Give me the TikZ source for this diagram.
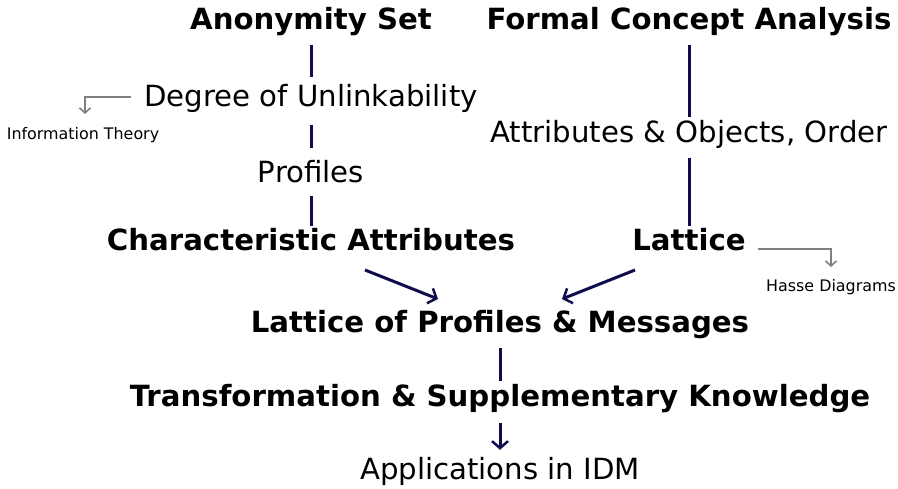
\documentclass[tikz,border=0pt]{standalone}
\usepackage{fontspec}
\setmainfont{DejaVu Sans}
\usepackage{tikz}
\usetikzlibrary{arrows.meta}

\definecolor{navy}{RGB}{14,14,78}
\definecolor{notegray}{RGB}{128,128,128}

\begin{document}
\begin{tikzpicture}[x=1pt,y=-1pt]
\tikzstyle{topic}=[inner sep=0pt,anchor=base,text height=20pt,text depth=6pt,font=\fontsize{29.2}{33}\selectfont\bfseries]
\tikzstyle{sub}=[inner sep=0pt,anchor=base,text height=20pt,text depth=6pt,font=\fontsize{29.2}{33}\selectfont]
\tikzstyle{hint}=[inner sep=0pt,anchor=base,text height=11pt,text depth=4pt,font=\fontsize{15.9}{18}\selectfont]
\tikzstyle{link}=[draw=navy,line width=3pt]
\tikzstyle{flow}=[draw=navy,line width=3pt,-{Straight Barb[length=7pt,width=16pt,line width=2.5pt]}]
\tikzstyle{note}=[draw=notegray,line width=2pt,-{Straight Barb[length=5pt,width=11pt,line width=1.6pt]}]
\useasboundingbox (0,0) rectangle (898,488);

% left column
\node [topic] (anon) at (311,29) {Anonymity Set};
\node [sub] (degree) at (311,106) {Degree of Unlinkability};
\node [hint] (info) at (83,139) {Information Theory};
\node [sub] (profiles) at (311,182) {Profiles};
\node [topic] (charattr) at (311,250) {Characteristic Attributes};

% right column
\node [topic] (fca) at (689,29) {Formal Concept Analysis};
\node [sub] (attrobj) at (689,142) {Attributes \& Objects, Order};
\node [topic] (lattice) at (689,250) {Lattice};
\node [hint] (hasse) at (831,291) {Hasse Diagrams};

% bottom
\node [topic] (lop) at (500,332) {Lattice of Profiles \& Messages};
\node [topic] (trans) at (500,406) {Transformation \& Supplementary Knowledge};
\node [sub] (apps) at (500,479) {Applications in IDM};

\draw[link,shorten <=10pt,shorten >=9pt] (anon) -- (degree);
\draw[link,shorten <=13pt,shorten >=14pt] (degree) -- (profiles);
\draw[link,shorten <=8pt,shorten >=4pt] (profiles) -- (charattr);
\draw[link,shorten <=10pt,shorten >=5pt] (fca) -- (attrobj);
\draw[link,shorten <=10pt,shorten >=4pt] (attrobj) -- (lattice);
\draw[link,shorten <=10pt,shorten >=5pt] (lop) -- (trans);
\draw[flow,shorten <=11pt,shorten >=9pt] (trans) -- (apps);

\draw[flow] ([xshift=54pt,yshift=-20pt]charattr.base) -- ([xshift=-62pt,yshift=33pt]lop.base);
\draw[flow] ([xshift=-54pt,yshift=-20pt]lattice.base) -- ([xshift=62pt,yshift=33pt]lop.base);

\draw[note] ([xshift=-13pt,yshift=9pt]degree.base west) -| ([xshift=2pt,yshift=25pt]info.base);
\draw[note] ([xshift=12pt,yshift=1pt]lattice.base east) -| ([yshift=24pt]hasse.base);
\end{tikzpicture}
\end{document}
